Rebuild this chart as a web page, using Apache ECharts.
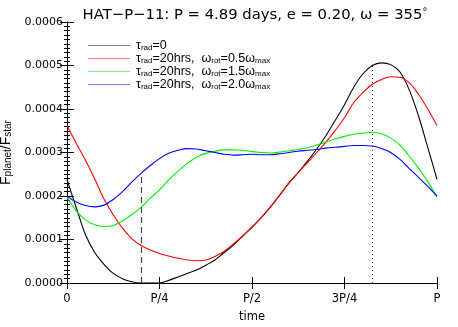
<!DOCTYPE html>
<html>
<head>
<meta charset="utf-8">
<script src="https://cdn.jsdelivr.net/npm/echarts@6/dist/echarts.min.js"></script>
<style>
  html, body { margin: 0; padding: 0; background: #fff; }
  #chart { width: 458px; height: 327px; }
</style>
</head>
<body>
<div id="chart"></div>
<script>
// orbital phase (fraction of P), every 0.025
const phase = [0, 0.025, 0.05, 0.075, 0.1, 0.125, 0.15, 0.175, 0.2, 0.225,
  0.25, 0.275, 0.3, 0.325, 0.35, 0.375, 0.4, 0.425, 0.45, 0.475,
  0.5, 0.525, 0.55, 0.575, 0.6, 0.625, 0.65, 0.675, 0.7, 0.725,
  0.75, 0.775, 0.8, 0.825, 0.85, 0.875, 0.9, 0.925, 0.95, 0.975, 1.0];

// F_planet / F_star, units of 1e-4
const tau0 = [2.38, 1.73, 1.11, 0.70, 0.43, 0.22, 0.10, 0.03, 0.0, 0.0,
  0.0, 0.06, 0.14, 0.22, 0.30, 0.41, 0.53, 0.70, 0.87, 1.08,
  1.28, 1.50, 1.75, 2.02, 2.30, 2.54, 2.80, 3.08, 3.39, 3.74,
  4.10, 4.50, 4.81, 5.00, 5.06, 5.02, 4.85, 4.44, 3.84, 3.12, 2.38];
const rot05 = [3.62, 3.21, 2.82, 2.39, 1.93, 1.57, 1.26, 1.02, 0.86, 0.76,
  0.68, 0.62, 0.57, 0.53, 0.51, 0.53, 0.61, 0.73, 0.90, 1.08,
  1.29, 1.51, 1.75, 2.02, 2.30, 2.54, 2.77, 3.00, 3.24, 3.51,
  3.80, 4.15, 4.38, 4.57, 4.68, 4.74, 4.73, 4.60, 4.34, 4.00, 3.62];
const rot15 = [1.97, 1.66, 1.45, 1.34, 1.30, 1.32, 1.43, 1.57, 1.74, 1.95,
  2.14, 2.37, 2.57, 2.75, 2.89, 2.98, 3.03, 3.06, 3.06, 3.05,
  3.02, 3.00, 2.99, 3.01, 3.04, 3.07, 3.11, 3.17, 3.24, 3.31,
  3.37, 3.42, 3.45, 3.46, 3.43, 3.33, 3.17, 2.92, 2.64, 2.33, 1.97];
const rot20 = [2.0, 1.86, 1.78, 1.75, 1.79, 1.92, 2.10, 2.32, 2.52, 2.70,
  2.86, 2.98, 3.05, 3.09, 3.08, 3.04, 3.00, 2.96, 2.94, 2.95,
  2.96, 2.95, 2.95, 2.97, 3.00, 3.03, 3.05, 3.07, 3.10, 3.12,
  3.14, 3.16, 3.16, 3.15, 3.09, 3.00, 2.84, 2.63, 2.43, 2.22, 2.0];

// vertical marker lines: [phase, top value (1e-4)]
const dashedMark = [0.202, 2.52];
const dottedMark = [0.826, 5.03];

const xTickLabels = ["0", "P/4", "P/2", "3P/4", "P"];
const yTicks = [0, 0.0001, 0.0002, 0.0003, 0.0004, 0.0005, 0.0006];

const seriesNames = ["tau0", "rot05", "rot15", "rot20"];
const legendText = {
  tau0: "{t|τ}{s|rad}{t|=0}",
  rot05: "{t|τ}{s|rad}{t|=20hrs,  ω}{s|rot}{t|=0.5ω}{s|max}",
  rot15: "{t|τ}{s|rad}{t|=20hrs,  ω}{s|rot}{t|=1.5ω}{s|max}",
  rot20: "{t|τ}{s|rad}{t|=20hrs,  ω}{s|rot}{t|=2.0ω}{s|max}",
};
const colors = ["#000000", "#ff0000", "#00ee00", "#0000ff"];

const toPairs = (vals) => vals.map((v, i) => [phase[i], v * 1e-4]);

const FONT = "Liberation Sans";
const TICKFONT = "DejaVu Sans";

const makeSeries = (name, vals, color) => ({
  name: name,
  type: "line",
  data: toPairs(vals),
  smooth: 0.35,
  symbol: "none",
  clip: true,
  lineStyle: { color: color, width: 1.1 },
  itemStyle: { color: color },
});

const series = [
  makeSeries("tau0", tau0, colors[0]),
  makeSeries("rot05", rot05, colors[1]),
  makeSeries("rot15", rot15, colors[2]),
  makeSeries("rot20", rot20, colors[3]),
];

// marker lines attached to the black series
series[0].markLine = {
  silent: true,
  symbol: "none",
  label: { show: false },
  data: [
    [
      { coord: [dashedMark[0], 0], lineStyle: { type: [6, 4], color: "#444", width: 1.2 } },
      { coord: [dashedMark[0], dashedMark[1] * 1e-4] },
    ],
    [
      { coord: [dottedMark[0], 0], lineStyle: { type: [1, 3], color: "#333", width: 1 } },
      { coord: [dottedMark[0], dottedMark[1] * 1e-4] },
    ],
  ],
};

const richSub = {
  t: { fontFamily: FONT, fontSize: 12.5, color: "#000", verticalAlign: "bottom", lineHeight: 13 },
  s: { fontFamily: FONT, fontSize: 8, color: "#000", verticalAlign: "bottom", lineHeight: 10 },
};
const richName = {
  t: { fontFamily: FONT, fontSize: 14, color: "#000", verticalAlign: "bottom", lineHeight: 15 },
  s: { fontFamily: FONT, fontSize: 10, color: "#000", verticalAlign: "bottom", lineHeight: 11 },
};

// thin horizontal bar centred in the legend icon box
const lineIcon = "path://M0,0L100,0L100,0.01ZM0,5.2L100,5.2L100,6.8L0,6.8ZM0,11.99L100,11.99L100,12Z";

const option = {
  animation: false,
  backgroundColor: "#fff",
  title: {
    text: "HAT−P−11: P = 4.89 days, e = 0.20, ω = 355{d|°}",
    left: 250,
    textAlign: "center",
    top: 2,
    textStyle: {
      fontFamily: TICKFONT,
      fontSize: 14.8,
      fontWeight: "normal",
      color: "#000",
      rich: {
        d: { fontFamily: TICKFONT, fontSize: 10, verticalAlign: "top", padding: [0, 0, 7, 0] },
      },
    },
  },
  grid: { left: 67, right: 21, top: 22, bottom: 44, outerBoundsMode: "none" },
  legend: {
    orient: "vertical",
    left: 83,
    top: 34,
    itemWidth: 42,
    itemHeight: 11,
    itemGap: 0,
    icon: lineIcon,
    data: seriesNames,
    formatter: (name) => legendText[name],
    textStyle: { rich: richSub, padding: [0, 0, 0, 1] },
  },
  xAxis: [
    {
      type: "value",
      min: 0,
      max: 1,
      interval: 0.25,
      name: "time",
      nameLocation: "middle",
      nameGap: 28,
      nameTextStyle: { fontFamily: TICKFONT, fontSize: 11.5, color: "#000" },
      axisLine: { lineStyle: { color: "#000", width: 1 } },
      axisTick: { inside: true, length: 6, lineStyle: { color: "#000" } },
      axisLabel: {
        fontFamily: TICKFONT,
        fontSize: 11.5,
        color: "#000",
        margin: 10,
        formatter: (v) => xTickLabels[Math.round(v * 4)],
      },
      splitLine: { show: false },
    },
    {
      type: "value",
      position: "top",
      min: 0,
      max: 1,
      interval: 0.25,
      axisLine: { lineStyle: { color: "#000", width: 1 } },
      axisTick: { inside: true, length: 6, lineStyle: { color: "#000" } },
      axisLabel: { show: false },
      splitLine: { show: false },
    },
  ],
  yAxis: [
    {
      type: "value",
      min: yTicks[0],
      max: yTicks[yTicks.length - 1],
      interval: 0.0001,
      name: "{t|F}{s|planet}{t|/F}{s|star}",
      nameLocation: "middle",
      nameRotate: 90,
      nameGap: 49,
      nameTextStyle: { rich: richName },
      axisLine: { show: true, lineStyle: { color: "#000", width: 1 } },
      axisTick: { inside: true, length: 7, lineStyle: { color: "#000" } },
      minorTick: { show: true, splitNumber: 10, length: 3, lineStyle: { color: "#000" } },
      axisLabel: {
        fontFamily: TICKFONT,
        fontSize: 11,
        color: "#000",
        margin: 4,
        formatter: (v) => v.toFixed(4),
      },
      splitLine: { show: false },
    },
    {
      type: "value",
      position: "right",
      min: yTicks[0],
      max: yTicks[yTicks.length - 1],
      interval: 0.0001,
      axisLine: { show: true, lineStyle: { color: "#000", width: 1 } },
      axisTick: { inside: true, length: 7, lineStyle: { color: "#000" } },
      minorTick: { show: true, splitNumber: 10, length: 3, lineStyle: { color: "#000" } },
      axisLabel: { show: false },
      splitLine: { show: false },
    },
  ],
  series: series,
};

const myChart = echarts.init(document.getElementById("chart"), null, { renderer: "canvas" });
myChart.setOption(option);
</script>
</body>
</html>
